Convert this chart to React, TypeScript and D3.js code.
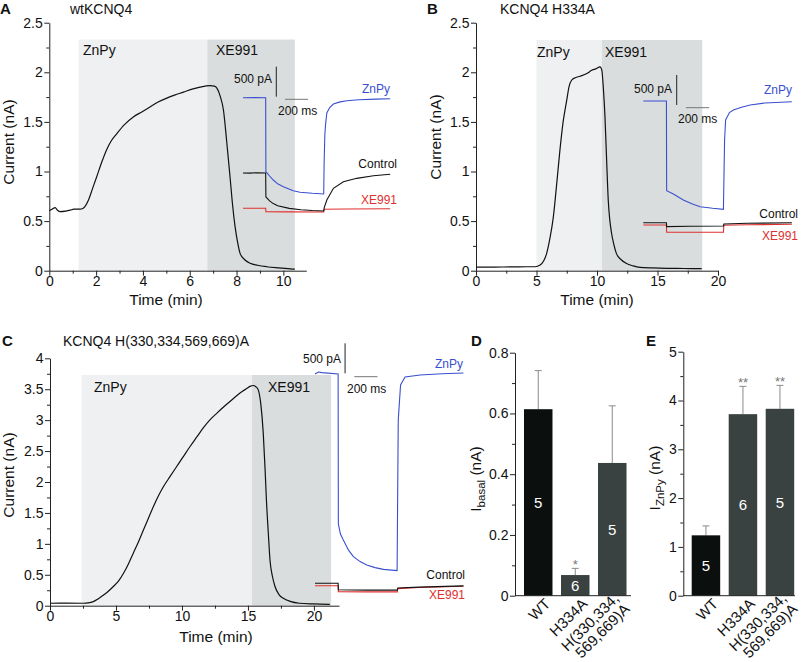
import React, { useEffect, useRef } from "react";
import * as d3 from "d3";

const FONT = "'Liberation Sans', Arial, Helvetica, sans-serif";

// ---- time courses (min, nA) ----
const traceA: [number, number][] = [
  [0, 0.605], [0.12, 0.62], [0.25, 0.635], [0.35, 0.61], [0.45, 0.595], [0.7, 0.6], [0.9, 0.61],
  [1.05, 0.62], [1.17, 0.62], [1.3, 0.62], [1.45, 0.63], [1.67, 0.71], [1.85, 0.83], [2.03, 0.95],
  [2.25, 1.1], [2.45, 1.22], [2.65, 1.31], [2.88, 1.38], [3.2, 1.47], [3.59, 1.55], [3.95, 1.6],
  [4.3, 1.65], [4.65, 1.7], [5.02, 1.74], [5.35, 1.77], [5.73, 1.8], [6.1, 1.83], [6.44, 1.85],
  [6.87, 1.865], [7.05, 1.86], [7.16, 1.84], [7.3, 1.76], [7.44, 1.62], [7.58, 1.3], [7.72, 0.95],
  [7.84, 0.64], [7.94, 0.44], [8.05, 0.28], [8.15, 0.175], [8.35, 0.11], [8.58, 0.075],
  [8.9, 0.055], [9.29, 0.04], [9.8, 0.028], [10.2, 0.02], [10.49, 0.015],
];
const traceB: [number, number][] = [
  [0, 0.035], [1.5, 0.037], [3, 0.038], [4.2, 0.04], [4.88, 0.04], [5.3, 0.057], [5.6, 0.1],
  [5.84, 0.175], [6.1, 0.32], [6.39, 0.54], [6.65, 0.85], [6.94, 1.22], [7.2, 1.5], [7.5, 1.72],
  [7.7, 1.86], [7.9, 1.92], [8.2, 1.945], [8.6, 1.96], [9.2, 1.99], [9.56, 2.02], [9.9, 2.035],
  [10.25, 2.055], [10.4, 2.02], [10.52, 1.85], [10.66, 1.55], [10.8, 1.1], [10.93, 0.71],
  [11.05, 0.52], [11.2, 0.38], [11.4, 0.26], [11.6, 0.175], [12.0, 0.11], [12.4, 0.075],
  [13.0, 0.048], [13.55, 0.034], [14.6, 0.028], [15.8, 0.024], [17.2, 0.022], [18.65, 0.02],
];
const traceC: [number, number][] = [
  [0, 0.04], [1.2, 0.042], [2.53, 0.04], [2.9, 0.045], [3.28, 0.065], [3.65, 0.11], [4.04, 0.17],
  [4.4, 0.23], [4.8, 0.31], [5.2, 0.4], [5.56, 0.52], [5.95, 0.68], [6.31, 0.85], [6.7, 1.03],
  [7.07, 1.22], [7.45, 1.41], [7.83, 1.6], [8.2, 1.77], [8.58, 1.92], [9.1, 2.09], [9.6, 2.25],
  [10.1, 2.41], [10.6, 2.57], [11.1, 2.72], [11.6, 2.87], [12.1, 3.0], [12.63, 3.11],
  [13.3, 3.24], [13.9, 3.35], [14.4, 3.44], [14.9, 3.51], [15.2, 3.55], [15.4, 3.56],
  [15.6, 3.54], [15.78, 3.49], [15.98, 3.25], [16.16, 2.79], [16.3, 2.2], [16.4, 1.71],
  [16.55, 1.15], [16.67, 0.74], [16.85, 0.48], [17.05, 0.31], [17.35, 0.18], [17.68, 0.12],
  [18.2, 0.07], [18.9, 0.04], [20.0, 0.028], [21.2, 0.02],
];

// ---- example current sweeps (ms, pA) ----
const sweepA = {
  znpy: [[0, 1955], [100, 1957], [196, 1955], [198, 722], [230, 650], [262, 583], [300, 520], [349, 472], [435, 405], [493, 380], [600, 362], [698, 350], [702, 900], [708, 1350], [715, 1528], [725, 1700], [750, 1790], [782, 1850], [840, 1885], [898, 1905], [1000, 1920], [1150, 1932], [1273, 1938]],
  control: [[0, 700], [60, 698], [120, 705], [196, 700], [198, 300], [230, 235], [262, 190], [300, 155], [400, 110], [500, 88], [600, 75], [698, 67], [702, 120], [725, 250], [782, 445], [868, 555], [984, 611], [1128, 655], [1273, 678]],
  xe991: [[0, 112], [196, 112], [198, 55], [400, 52], [698, 50], [702, 95], [900, 100], [1273, 105]],
};
const sweepB = {
  znpy: [[0, 2233], [200, 2233], [202, 738], [260, 683], [346, 583], [420, 520], [491, 472], [600, 445], [693, 428], [697, 900], [703, 1583], [712, 1917], [745, 2040], [779, 2083], [850, 2130], [924, 2167], [1050, 2200], [1285, 2222]],
  control: [[0, 205], [200, 205], [202, 140], [400, 145], [693, 150], [697, 183], [900, 195], [1285, 205]],
  xe991: [[0, 167], [200, 167], [202, 45], [400, 45], [693, 47], [697, 162], [900, 170], [1285, 180]],
};
const sweepC = {
  znpy: [[0, 3767], [30, 3800], [60, 3790], [200, 3767], [202, 1267], [220, 1100], [245, 1000], [290, 830], [332, 722], [390, 640], [448, 583], [520, 540], [592, 511], [710, 489], [714, 1500], [720, 3000], [740, 3583], [779, 3717], [909, 3750], [1100, 3770], [1284, 3783]],
  control: [[0, 278], [200, 278], [202, 170], [450, 165], [712, 165], [716, 200], [900, 215], [1284, 235]],
  xe991: [[0, 238], [200, 238], [202, 140], [450, 135], [712, 135], [716, 190], [900, 208], [1284, 228]],
};

// ---- summary bars ----
const groups = ["WT", "H334A", "H(330,334,|569,669)A"];
const basalMean = [0.614, 0.068, 0.437];
const basalSem = [0.127, 0.022, 0.188];
const znpyMean = [1.237, 3.72, 3.83];
const znpySem = [0.193, 0.57, 0.48];
const nCells = [5, 6, 5];
const basalStars = ["", "*", ""];
const znpyStars = ["", "**", "**"];

const BLUE = "#3a4fd0";
const RED = "#e0302e";
const ZN_FILL = "#eff0f1";
const XE_FILL = "#d9dddd";

export default function App() {
  const ref = useRef<SVGSVGElement>(null);

  useEffect(() => {
    const svg = d3.select(ref.current);
    svg.selectAll("*").remove();
    svg.style("font-family", FONT);

    const styleAxis = (g: any, fs: number) => {
      g.attr("font-family", FONT).attr("font-size", fs);
      g.selectAll("path,line").attr("stroke", "#222");
      g.selectAll("text").attr("fill", "#111");
    };

    const text = (x: number, y: number, s: string, o: any = {}) =>
      svg.append("text").attr("x", x).attr("y", y).text(s)
        .attr("font-size", o.fs ?? 14).attr("fill", o.fill ?? "#111")
        .attr("text-anchor", o.anchor ?? "start").attr("font-weight", o.bold ? "bold" : null);

    const timePanels = [
      {
        letter: "A", title: "wtKCNQ4", lx: 0, tx: 70, ty: 14, trace: traceA,
        xd: [0, 10.98], xr: [49.3, 306.3], yd: [0, 2.5], yr: [270.7, 22.7],
        xt: [0, 2, 4, 6, 8, 10], xm: [1, 3, 5, 7, 9], yt: [0, 0.5, 1, 1.5, 2, 2.5], ym: d3.range(0.25, 2.5, 0.5),
        zn: [1.25, 6.75], xe: [6.75, 10.49], top: 2.33, znL: [83, 55], xeL: [216, 55],
        xlab: [166, 305], ylab: [14, 142],
        sweep: sweepA, ix: 243, iy: 215, bar: [288, 1972, 363, 1928],
        lab: { znpy: [390, 93], control: [397, 168], xe991: [397, 204], pa: [272, 83], ms: [278, 115] },
      },
      {
        letter: "B", title: "KCNQ4 H334A", lx: 427, tx: 500, ty: 14, trace: traceB,
        xd: [0, 20], xr: [476, 718], yd: [0, 2.5], yr: [270.7, 22.7],
        xt: [0, 5, 10, 15, 20], xm: [2.5, 7.5, 12.5, 17.5], yt: [0, 0.5, 1, 1.5, 2, 2.5], ym: d3.range(0.25, 2.5, 0.5),
        zn: [5, 10.4], xe: [10.4, 18.7], top: 2.326, znL: [537, 57], xeL: [605, 57],
        xlab: [597, 305], ylab: [441, 137],
        sweep: sweepB, ix: 643.3, iy: 235, bar: [289, 2167, 369, 2122],
        lab: { znpy: [792, 94], control: [798, 218], xe991: [798, 240], pa: [672, 93], ms: [678, 123] },
      },
      {
        letter: "C", title: "KCNQ4 H(330,334,569,669)A", lx: 2, tx: 63, ty: 346, trace: traceC,
        xd: [0, 21.9], xr: [50, 339], yd: [0, 4], yr: [605.7, 358.3],
        xt: [0, 5, 10, 15, 20], xm: [2.5, 7.5, 12.5, 17.5], yt: [0, 0.5, 1, 1.5, 2, 2.5, 3, 3.5, 4], ym: d3.range(0.25, 4, 0.5),
        zn: [2.4, 15.3], xe: [15.3, 21.3], top: 3.73, znL: [94, 392], xeL: [268, 392],
        xlab: [216, 642], ylab: [14, 475],
        sweep: sweepC, ix: 315, iy: 600, bar: [260, 3778, 340, 3722],
        lab: { znpy: [463, 368], control: [465, 579], xe991: [465, 599], pa: [341, 363], ms: [347, 393] },
      },
    ];

    timePanels.forEach((p) => {
      const x = d3.scaleLinear().domain(p.xd).range(p.xr);
      const y = d3.scaleLinear().domain(p.yd).range(p.yr);
      const g = svg.append("g");
      [[p.zn, ZN_FILL], [p.xe, XE_FILL]].forEach(([r, c]: any) => {
        g.append("rect").attr("x", x(r[0])).attr("width", x(r[1]) - x(r[0]))
          .attr("y", y(p.top)).attr("height", y(0) - y(p.top)).attr("fill", c);
      });
      text(p.znL[0], p.znL[1], "ZnPy", { fs: 14 });
      text(p.xeL[0], p.xeL[1], "XE991", { fs: 14 });

      const ax = g.append("g").attr("transform", `translate(0,${y(0)})`)
        .call(d3.axisBottom(x).tickValues(p.xt).tickSize(5).tickSizeOuter(0).tickPadding(0).tickFormat(d3.format("~g") as any));
      styleAxis(ax, 14);
      const axm = g.append("g").attr("transform", `translate(0,${y(0)})`)
        .call(d3.axisBottom(x).tickValues(p.xm).tickSize(3).tickFormat(() => ""));
      axm.select(".domain").remove(); styleAxis(axm, 10);
      const ay = g.append("g").attr("transform", `translate(${x(0)},0)`)
        .call(d3.axisLeft(y).tickValues(p.yt).tickSize(5).tickSizeOuter(0).tickPadding(1.5).tickFormat(d3.format("~g") as any));
      styleAxis(ay, 14);
      const aym = g.append("g").attr("transform", `translate(${x(0)},0)`)
        .call(d3.axisLeft(y).tickValues(p.ym).tickSize(3).tickFormat(() => ""));
      aym.select(".domain").remove(); styleAxis(aym, 10);

      g.append("path").datum(p.trace)
        .attr("d", d3.line<[number, number]>().x((d) => x(d[0])).y((d) => y(d[1])).curve(d3.curveMonotoneX))
        .attr("fill", "none").attr("stroke", "#111").attr("stroke-width", 1.2);

      text(p.xlab[0], p.xlab[1], "Time (min)", { fs: 15.5, anchor: "middle" });
      svg.append("text").attr("transform", `translate(${p.ylab[0]},${p.ylab[1]}) rotate(-90)`)
        .attr("text-anchor", "middle").attr("font-size", 15.5).attr("fill", "#111").text("Current (nA)");
      text(p.lx, p.ty, p.letter, { fs: 15, bold: true });
      text(p.tx, p.ty, p.title, { fs: 14 });

      // inset sweep
      const ix = d3.scaleLinear().domain([0, 1280]).range([p.ix, p.ix + 148]);
      const iy = d3.scaleLinear().domain([0, 500]).range([p.iy, p.iy - 30]);
      const ln = d3.line<number[]>().x((d) => ix(d[0])).y((d) => iy(d[1]));
      ([["xe991", RED], ["control", "#111"], ["znpy", BLUE]] as [keyof typeof p.sweep, string][]).forEach(([k, c]) => {
        g.append("path").datum(p.sweep[k]).attr("d", ln as any).attr("fill", "none")
          .attr("stroke", c).attr("stroke-width", 1.1);
      });
      const [bt, bp, ht, hp] = p.bar;
      g.append("line").attr("x1", ix(bt)).attr("x2", ix(bt)).attr("y1", iy(bp)).attr("y2", iy(bp + 500))
        .attr("stroke", "#222").attr("stroke-width", 1);
      g.append("line").attr("x1", ix(ht)).attr("x2", ix(ht + 200)).attr("y1", iy(hp)).attr("y2", iy(hp))
        .attr("stroke", "#777").attr("stroke-width", 1);
      text(p.lab.pa[0], p.lab.pa[1], "500 pA", { fs: 12, anchor: "end" });
      text(p.lab.ms[0], p.lab.ms[1], "200 ms", { fs: 12 });
      text(p.lab.znpy[0], p.lab.znpy[1], "ZnPy", { fs: 12, anchor: "end", fill: BLUE });
      text(p.lab.control[0], p.lab.control[1], "Control", { fs: 12, anchor: "end" });
      text(p.lab.xe991[0], p.lab.xe991[1], "XE991", { fs: 12, anchor: "end", fill: RED });
    });

    // ---- bar panels ----
    const barPanels = [
      {
        letter: "D", lx: 471, mean: basalMean, sem: basalSem, stars: basalStars,
        ax0: 515, ax1: 631, br: [515, 635.5], po: 0.243, yd: [0, 0.8], yr: [595.7, 352.7],
        yt: [0, 0.2, 0.4, 0.6, 0.8], ym: [0.1, 0.3, 0.5, 0.7], sub: "basal", ylab: [481, 479],
      },
      {
        letter: "E", lx: 646, mean: znpyMean, sem: znpySem, stars: znpyStars,
        ax0: 683.3, ax1: 795, br: [683.3, 802.6], po: 0.227, yd: [0, 5], yr: [595.7, 351.7],
        yt: [0, 1, 2, 3, 4, 5], ym: [0.5, 1.5, 2.5, 3.5, 4.5], sub: "ZnPy", ylab: [660, 478],
      },
    ];

    barPanels.forEach((p) => {
      const x = d3.scaleBand().domain(groups).range(p.br as [number, number]).paddingInner(0.23).paddingOuter(p.po);
      const y = d3.scaleLinear().domain(p.yd).range(p.yr);
      const g = svg.append("g");
      const data = groups.map((k, i) => ({ k, m: p.mean[i], s: p.sem[i], n: nCells[i], st: p.stars[i], i }));

      g.selectAll("line.err").data(data).join("line")
        .attr("x1", (d) => x(d.k)! + x.bandwidth() / 2).attr("x2", (d) => x(d.k)! + x.bandwidth() / 2)
        .attr("y1", (d) => y(d.m)).attr("y2", (d) => y(d.m + d.s)).attr("stroke", "#8a8a8a");
      g.selectAll("line.cap").data(data).join("line")
        .attr("x1", (d) => x(d.k)! + x.bandwidth() / 2 - 3.5).attr("x2", (d) => x(d.k)! + x.bandwidth() / 2 + 3.5)
        .attr("y1", (d) => y(d.m + d.s)).attr("y2", (d) => y(d.m + d.s)).attr("stroke", "#8a8a8a");
      g.selectAll("rect").data(data).join("rect")
        .attr("x", (d) => x(d.k)!).attr("width", x.bandwidth())
        .attr("y", (d) => y(d.m)).attr("height", (d) => y(0) - y(d.m))
        .attr("fill", (d) => (d.i === 0 ? "#0b0f0e" : "#3a4141"));
      g.selectAll("text.n").data(data).join("text")
        .attr("x", (d) => x(d.k)! + x.bandwidth() / 2).attr("y", (d) => (y(d.m) + y(0)) / 2)
        .attr("dy", "0.36em").attr("text-anchor", "middle").attr("font-size", 15).attr("fill", "#fff")
        .text((d) => d.n);
      g.selectAll("text.st").data(data.filter((d) => d.st)).join("text")
        .attr("x", (d) => x(d.k)! + x.bandwidth() / 2).attr("y", (d) => y(d.m + d.s) + 1)
        .attr("text-anchor", "middle").attr("font-size", 13).attr("fill", "#777").text((d) => d.st);

      const ay = g.append("g").attr("transform", `translate(${p.ax0},0)`)
        .call(d3.axisLeft(y).tickValues(p.yt).tickSize(5).tickSizeOuter(0).tickPadding(1.5).tickFormat(d3.format("~g") as any));
      styleAxis(ay, 14);
      const aym = g.append("g").attr("transform", `translate(${p.ax0},0)`)
        .call(d3.axisLeft(y).tickValues(p.ym).tickSize(3).tickFormat(() => ""));
      aym.select(".domain").remove(); styleAxis(aym, 10);
      g.append("line").attr("x1", p.ax0).attr("x2", p.ax1).attr("y1", y(0)).attr("y2", y(0)).attr("stroke", "#222");

      data.forEach((d) => {
        const cx = x(d.k)! + x.bandwidth() / 2;
        const lines = d.k.split("|");
        const t = g.append("text").attr("transform", `translate(${cx + 13},${y(0) + 9}) rotate(-45)`)
          .attr("text-anchor", "end").attr("font-size", 15).attr("fill", "#111");
        lines.forEach((s, j) => {
          t.append("tspan").attr("x", 0).attr("y", (j - (lines.length - 1) / 2) * 15).text(s);
        });
      });

      const yl = svg.append("text").attr("transform", `translate(${p.ylab[0]},${p.ylab[1]}) rotate(-90)`)
        .attr("text-anchor", "middle").attr("font-size", 15.5).attr("fill", "#111");
      yl.append("tspan").text("I");
      yl.append("tspan").attr("font-size", 11.5).attr("dy", 4).text(p.sub);
      yl.append("tspan").attr("dy", -4).text(" (nA)");
      text(p.lx, 346, p.letter, { fs: 15, bold: true });
    });
  }, []);

  return (
    <svg ref={ref} width={802} height={662} style={{ position: "absolute", left: 0, top: 0, background: "#fff" }} />
  );
}
